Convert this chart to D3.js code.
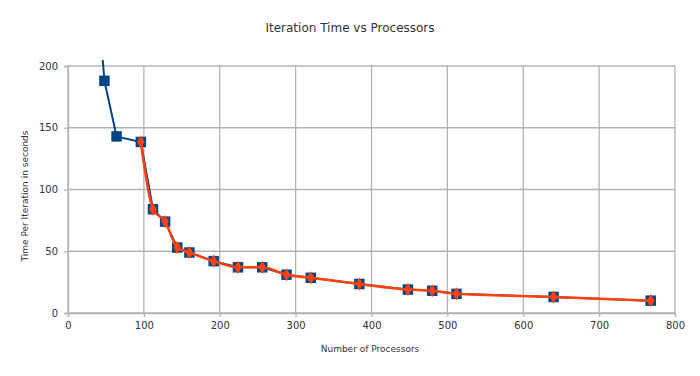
<!DOCTYPE html>
<html>
<head>
<meta charset="utf-8">
<script src="https://cdn.jsdelivr.net/npm/d3@7"></script>
<style>
  body { margin: 0; background: #fff; }
  text { font-family: "DejaVu Sans", sans-serif; fill: #333; }
</style>
</head>
<body>
<div id="graph"></div>
<script>
(function(){
	"use strict";

	// processors used in each run
	var processors = [32, 48, 64, 96, 112, 128, 144, 160, 192, 224, 256, 288, 320, 384, 448, 480, 512, 640, 768];
	// measured seconds per iteration (first run goes off the top of the chart)
	var blueTimes = [310, 188, 143, 138.5, 84, 74, 53, 49, 42, 37, 37, 31, 28.5, 23.5, 19, 18, 15.5, 13, 10];
	// second series only covers the runs from 96 processors up
	var orangeProcs = [96, 112, 128, 144, 160, 192, 224, 256, 288, 320, 384, 448, 480, 512, 640, 768];
	var orangeTimes = [138.5, 84, 74, 53, 49, 42, 37, 37, 31, 28.5, 23.5, 19, 18, 15.5, 13, 10];
	var xTicks = [0, 100, 200, 300, 400, 500, 600, 700, 800];
	var yTicks = [0, 50, 100, 150, 200];

	var margin = {top: 66, right: 25, bottom: 63, left: 68};
	var width = 700 - margin.left - margin.right;
	var height = 376 - margin.top - margin.bottom;

	var svg = d3.select("#graph").append("svg")
		.attr("width", 700)
		.attr("height", 376);

	var g = svg.append("g").attr("transform", "translate(" + margin.left + "," + margin.top + ")");

	var x = d3.scaleLinear().domain([0, 800]).range([0, width]);
	var y = d3.scaleLinear().domain([0, 200]).range([height, 0]);

	//gridlines
	g.selectAll(".vgrid").data(xTicks).enter().append("line")
		.attr("x1", function(d) { return x(d); }).attr("x2", function(d) { return x(d); })
		.attr("y1", 0).attr("y2", height)
		.attr("stroke", "#b3b3b3").attr("stroke-width", 1.3);
	g.selectAll(".hgrid").data(yTicks).enter().append("line")
		.attr("x1", 0).attr("x2", width)
		.attr("y1", function(d) { return y(d); }).attr("y2", function(d) { return y(d); })
		.attr("stroke", "#b3b3b3").attr("stroke-width", 1.3);

	//axes
	var xAxis = g.append("g")
		.attr("transform", "translate(0," + height + ")")
		.call(d3.axisBottom(x).tickValues(xTicks).tickSize(4).tickPadding(5));
	var yAxis = g.append("g")
		.call(d3.axisLeft(y).tickValues(yTicks).tickSize(4).tickPadding(6));
	[xAxis, yAxis].forEach(function(a) {
		a.select(".domain").attr("stroke", "#b3b3b3").attr("stroke-width", 1.3);
		a.selectAll(".tick line").attr("stroke", "#b3b3b3").attr("stroke-width", 1.3);
		a.selectAll("text").style("font-size", "10px").attr("fill", "#333");
	});

	//clip the lines a little above the plot like the original
	svg.append("clipPath").attr("id", "clip")
		.append("rect").attr("x", -10).attr("y", -6).attr("width", width + 20).attr("height", height + 16);

	var plot = g.append("g").attr("clip-path", "url(#clip)");

	var blueData = processors.map(function(p, i) { return [p, blueTimes[i]]; });
	var orangeData = orangeProcs.map(function(p, i) { return [p, orangeTimes[i]]; });

	var line = d3.line().x(function(d) { return x(d[0]); }).y(function(d) { return y(d[1]); });

	plot.append("path").datum(blueData)
		.attr("d", line)
		.attr("fill", "none").attr("stroke", "#004586").attr("stroke-width", 2);

	plot.selectAll(".sq").data(blueData.filter(function(d) { return d[1] <= 200; })).enter().append("path")
		.attr("transform", function(d) { return "translate(" + x(d[0]) + "," + y(d[1]) + ")"; })
		.attr("d", d3.symbol().type(d3.symbolSquare).size(110))
		.attr("fill", "#004586");

	plot.append("path").datum(orangeData)
		.attr("d", line.curve(d3.curveMonotoneX))
		.attr("fill", "none").attr("stroke", "#ff420e").attr("stroke-width", 2.5);

	plot.selectAll(".dia").data(orangeData).enter().append("path")
		.attr("transform", function(d) { return "translate(" + x(d[0]) + "," + y(d[1]) + ")"; })
		.attr("d", d3.symbol().type(d3.symbolDiamond).size(50))
		.attr("fill", "#ff420e");

	//titles
	svg.append("text")
		.attr("x", 350).attr("y", 32)
		.attr("text-anchor", "middle")
		.style("font-size", "12px")
		.text("Iteration Time vs Processors");

	svg.append("text")
		.attr("x", 370).attr("y", 352)
		.attr("text-anchor", "middle")
		.style("font-size", "9px")
		.text("Number of Processors");

	svg.append("text")
		.attr("transform", "translate(28,196) rotate(-90)")
		.attr("text-anchor", "middle")
		.style("font-size", "9px")
		.text("Time Per Iteration in seconds");
})();
</script>
</body>
</html>
